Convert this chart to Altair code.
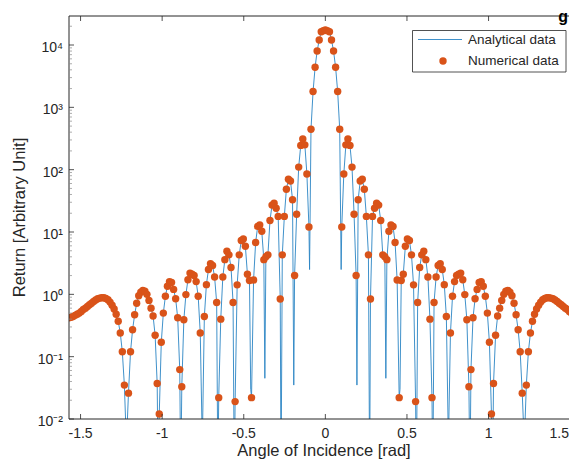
import altair as alt
import pandas as pd

# ---------------- data ----------------
# angular sampling step of the numerical data (rad)
STEP = 0.0125664
# numerical return, left half (sample index -125 .. 0); figure is symmetric
ret_left = [0.42, 0.43, 0.44, 0.46, 0.48, 0.50, 0.53, 0.57, 0.60, 0.64,
            0.68, 0.72, 0.77, 0.81, 0.85, 0.87, 0.88, 0.88, 0.86, 0.82,
            0.75, 0.67, 0.58, 0.48, 0.37, 0.24, 0.12, 0.035, 0.004, 0.026,
            0.12, 0.27, 0.47, 0.72, 0.95, 1.08, 1.15, 1.12, 1.0, 0.8,
            0.6, 0.45, 0.22, 0.037, 0.012, 0.17, 0.5, 0.93, 1.35, 1.6,
            1.55, 1.2, 0.85, 0.42, 0.062, 0.033, 0.39, 0.99, 1.71, 2.19,
            2.1, 2.0, 1.6, 0.93, 0.24, 0.004, 0.44, 1.43, 2.5, 3.1,
            2.9, 1.9, 0.74, 0.022, 0.40, 1.9, 3.6, 4.9, 4.3, 2.7,
            0.74, 0.019, 1.42, 4.3, 7.3, 7.7, 5.9, 2.1, 1.67, 0.022,
            1.7, 6.8, 12.3, 13, 10.3, 3.6, 4.0, 4.3, 15.3, 27,
            29, 24, 17.8, 0.84, 4.3, 17.8, 48.6, 70, 66, 33,
            2.0, 19.3, 110, 245, 310, 250, 85, 12, 446, 1790,
            4400, 8000, 12000, 16300, 17000, 17400]
# extra vertices of the analytical curve at its nulls (left half)
null_k = [-81.5, -70.5, -52.4, -44.4, -36.4, -29.5, -21.6, -15.4, -7.7]
null_ret = [0.001, 0.001, 0.001, 0.001, 0.03, 0.045, 0.001, 0.035, 2.5]

x_ticks = [-1.5, -1, -0.5, 0, 0.5, 1, 1.5]
x_tick_labels = ["-1.5", "-1", "-0.5", "0", "0.5", "1", "1.5"]
y_ticks = [0.01, 0.1, 1, 10, 100, 1000, 10000]
y_tick_labels = ["10⁻²", "10⁻¹", "10⁰", "10¹", "10²", "10³", "10⁴"]
y_minor = [m * d for d in [0.01, 0.1, 1, 10, 100, 1000] for m in range(2, 10)] + [20000]

# ---------------- tables ----------------
ret_all = ret_left + ret_left[-2::-1]
k_all = list(range(-125, 126))
num_df = pd.DataFrame({"angle": [k * STEP for k in k_all], "ret": ret_all})
pairs = sorted(list(zip(k_all, ret_all)) + list(zip(null_k, null_ret))
               + list(zip([-k for k in null_k], null_ret)))
ana_df = pd.DataFrame({"angle": [k * STEP for k, _ in pairs], "ret": [r for _, r in pairs]})

W, H = 500, 403
INK = "#262626"
FONT = "Liberation Sans"
xs = alt.Scale(domain=[-1.5708, -1.5708 + W / 163.2], nice=False, zero=False)
ys = alt.Scale(type="log", domain=[0.01, 29200], nice=False)
XQ = alt.X("angle:Q", scale=xs, axis=None)
YQ = alt.Y("ret:Q", scale=ys, axis=None)

line = alt.Chart(ana_df).mark_line(color="#2a84c4", strokeWidth=0.9, clip=True).encode(
    x=XQ, y=YQ, order="angle:Q")
pts = alt.Chart(num_df).mark_circle(color="#D95319", size=55, opacity=1, clip=True).encode(
    x=XQ, y=YQ)

xt = pd.DataFrame({"angle": x_ticks, "lab": x_tick_labels})
yt = pd.DataFrame({"ret": y_ticks, "lab": y_tick_labels})
ym = pd.DataFrame({"ret": y_minor})
one = pd.DataFrame({"a": [0]})

# frame
frame_l = alt.Chart(one).mark_rule(color=INK, strokeWidth=1).encode(
    x=alt.value(0), y=alt.value(0), y2=alt.value(H))
frame_b = alt.Chart(one).mark_rule(color=INK, strokeWidth=1).encode(
    x=alt.value(0), x2=alt.value(W), y=alt.value(H))
frame_t = alt.Chart(one).mark_rule(color=INK, strokeWidth=1).encode(
    x=alt.value(0), x2=alt.value(W), y=alt.value(0))

# inward ticks
xt_in = xt[xt["angle"] < 1.49]
tick_b = alt.Chart(xt_in).mark_rule(color=INK, strokeWidth=0.8).encode(
    x=XQ, y=alt.value(H), y2=alt.value(H - 5))
tick_t = alt.Chart(xt_in).mark_rule(color=INK, strokeWidth=0.8).encode(
    x=XQ, y=alt.value(0), y2=alt.value(5))
tick_l = alt.Chart(yt).mark_rule(color=INK, strokeWidth=0.8).encode(
    y=YQ, x=alt.value(0), x2=alt.value(5))
tick_m = alt.Chart(ym).mark_rule(color="#8a8a8a", strokeWidth=0.7).encode(
    y=YQ, x=alt.value(0), x2=alt.value(3))

# tick labels
xlab = alt.Chart(xt_in).mark_text(font=FONT, fontSize=14, color=INK, baseline="alphabetic").encode(
    x=XQ, y=alt.value(H + 18.5), text="lab:N")
xlab_last = alt.Chart(xt[xt["angle"] > 1.49]).mark_text(
    font=FONT, fontSize=14, color=INK, baseline="alphabetic", align="right").encode(
    x=alt.value(W), y=alt.value(H + 18.5), text="lab:N")
ylab = alt.Chart(yt).mark_text(font=FONT, fontSize=14, color=INK, align="right",
                               baseline="middle", dy=3).encode(
    x=alt.value(-6), y=YQ, text="lab:N")

# axis titles
xtitle = alt.Chart(one).mark_text(font=FONT, fontSize=16.5, color=INK, baseline="alphabetic").encode(
    x=alt.value(255), y=alt.value(H + 36.5), text=alt.value("Angle of Incidence [rad]"))
ytitle = alt.Chart(one).mark_text(font=FONT, fontSize=16.5, color=INK, angle=270,
                                  baseline="middle").encode(
    x=alt.value(-49), y=alt.value(H / 2), text=alt.value("Return [Arbitrary Unit]"))

# legend
leg_box = alt.Chart(one).mark_rect(fill="white", stroke=INK, strokeWidth=0.8).encode(
    x=alt.value(343.5), x2=alt.value(497), y=alt.value(14.5), y2=alt.value(56))
leg_line = alt.Chart(one).mark_rule(color="#2a84c4", strokeWidth=0.9).encode(
    x=alt.value(349), x2=alt.value(393), y=alt.value(23.5))
leg_dot = alt.Chart(one).mark_circle(color="#D95319", size=55, opacity=1).encode(
    x=alt.value(374), y=alt.value(45))
leg_t1 = alt.Chart(one).mark_text(align="left", baseline="middle", font=FONT, fontSize=13.5,
                                  color=INK).encode(x=alt.value(399), y=alt.value(23.5),
                                                    text=alt.value("Analytical data"))
leg_t2 = alt.Chart(one).mark_text(align="left", baseline="middle", font=FONT, fontSize=13.5,
                                  color=INK).encode(x=alt.value(399), y=alt.value(45),
                                                    text=alt.value("Numerical data"))
corner = alt.Chart(one).mark_text(align="right", baseline="top", font=FONT, fontSize=16,
                                  fontWeight="bold", color="black").encode(
    x=alt.value(W - 1), y=alt.value(-7), text=alt.value("g"))

chart = alt.layer(line, pts, frame_l, frame_b, frame_t, tick_b, tick_t, tick_l, tick_m,
                  xlab, xlab_last, ylab, xtitle, ytitle,
                  leg_box, leg_line, leg_dot, leg_t1, leg_t2, corner).properties(
    width=W, height=H,
    autosize=alt.AutoSizeParams(type="none"),
    padding={"left": 61, "top": 8, "right": 0, "bottom": 40},
).configure_view(stroke=None)

chart.save("out.html", embed_options={"renderer": "svg", "actions": False})
